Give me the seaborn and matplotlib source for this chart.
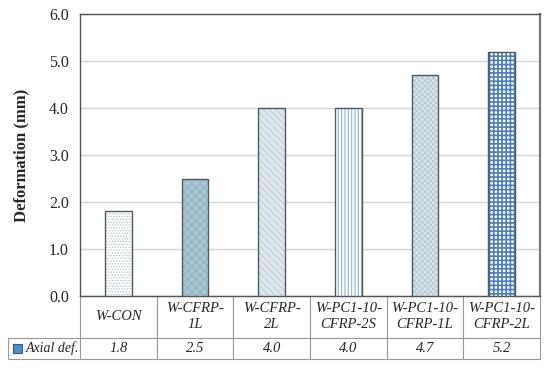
import matplotlib
matplotlib.use("Agg")
import matplotlib.pyplot as plt
import matplotlib.patches as mpatches
import seaborn as sns

# chart data
specimens = ["W-CON", "W-CFRP-\n1L", "W-CFRP-\n2L", "W-PC1-10-\nCFRP-2S",
             "W-PC1-10-\nCFRP-1L", "W-PC1-10-\nCFRP-2L"]
axial_def = [1.8, 2.5, 4.0, 4.0, 4.7, 5.2]
series_name = "Axial def."
y_ticks = [0, 1, 2, 3, 4, 5, 6]

# look of each bar (face, hatch, hatch colour, hatch width)
faces = ["#ffffff", "#a9c6d4", "#dce8ed", "#ffffff", "#dbe6eb", "#ffffff"]
hatches = ["......", "xxxx", "\\\\\\\\\\", "|||||", "xxxxxx", "++++"]
hatch_cols = ["#b9c7cd", "#8fb0c0", "#b8ccd5", "#8fb6d8", "#b3c8d2", "#4f7fb8"]
hatch_lw = [0.7, 0.7, 0.7, 0.8, 0.7, 1.2]

sns.set_theme(style="white")
plt.rcParams["font.family"] = ["Liberation Serif", "DejaVu Serif"]
plt.rcParams["hatch.linewidth"] = 0.7

fig = plt.figure(figsize=(5.5, 3.7), dpi=100)
ax = fig.add_axes([80 / 550, 1 - 296 / 370, 460 / 550, 282 / 370])

x_pos = list(range(len(axial_def)))
sns.barplot(x=x_pos, y=axial_def, hue=x_pos, palette=faces, legend=False,
            width=0.35, linewidth=0, ax=ax, saturation=1)

# hatch colour follows edge colour, so hatch first and outline afterwards
for p, h, hc, hw in zip(list(ax.patches), hatches, hatch_cols, hatch_lw):
    p.set_edgecolor(hc)
    p.set_hatch(h)
    p.set_linewidth(0)
    p.set_zorder(3)
    if hasattr(p, "set_hatch_linewidth"):
        p.set_hatch_linewidth(hw)
    ax.add_patch(mpatches.Rectangle(p.get_xy(), p.get_width(), p.get_height(),
                                    fill=False, edgecolor="#4f5a60",
                                    linewidth=1.0, zorder=4))

ax.set_ylim(0, 6)
ax.set_xlim(-0.5, len(axial_def) - 0.5)
ax.set_yticks(y_ticks)
ax.set_yticklabels([f"{t:.1f}" for t in y_ticks], fontsize=11.5)
ax.tick_params(axis="y", length=0, pad=8)
ax.set_xticks([])
ax.set_xlabel("")
ax.set_ylabel("Deformation (mm)", fontsize=12, fontweight="bold", labelpad=14)
ax.yaxis.grid(True, color="#d6d6d6", linewidth=1.0, zorder=0)
ax.set_axisbelow(True)
for s in ["top", "left", "bottom"]:
    ax.spines[s].set_color("#555555")
    ax.spines[s].set_linewidth(1.0)
ax.spines["right"].set_color("#7a7a7a")
ax.spines["right"].set_linewidth(1.6)

# data table below the axes; first column holds the series label
tab = ax.table(cellText=[[series_name] + [f"{v:.1f}" for v in axial_def]],
               colLabels=[""] + specimens,
               colWidths=[72 / 532] + [460 / 6 / 532] * len(axial_def),
               cellLoc="center",
               bbox=[-72 / 460, -63 / 282, 532 / 460, 63 / 282])
tab.auto_set_font_size(False)
for (r, c), cell in tab.get_celld().items():
    cell.set_edgecolor("#9a9a9a")
    cell.set_linewidth(0.8)
    txt = cell.get_text()
    txt.set_fontstyle("italic")
    txt.set_fontsize(10.5)
    cell.set_height(2.0 if r == 0 else 1.0)
    if r == 0:
        txt.set_linespacing(1.3)
    if r == 0 and c == 0:
        cell.visible_edges = "open"
    if r == 1 and c == 0:
        txt.set_horizontalalignment("left")
        txt.set_fontsize(10)
        cell.PAD = 0.25

# legend key inside the series label cell
fig.patches.append(mpatches.Rectangle((13 / 550, 1 - 353 / 370), 9 / 550, 9 / 370,
                                      transform=fig.transFigure, facecolor="#4f8fcf",
                                      edgecolor="#3a5a78", linewidth=0.8))

fig.savefig("out.png", dpi=100)
